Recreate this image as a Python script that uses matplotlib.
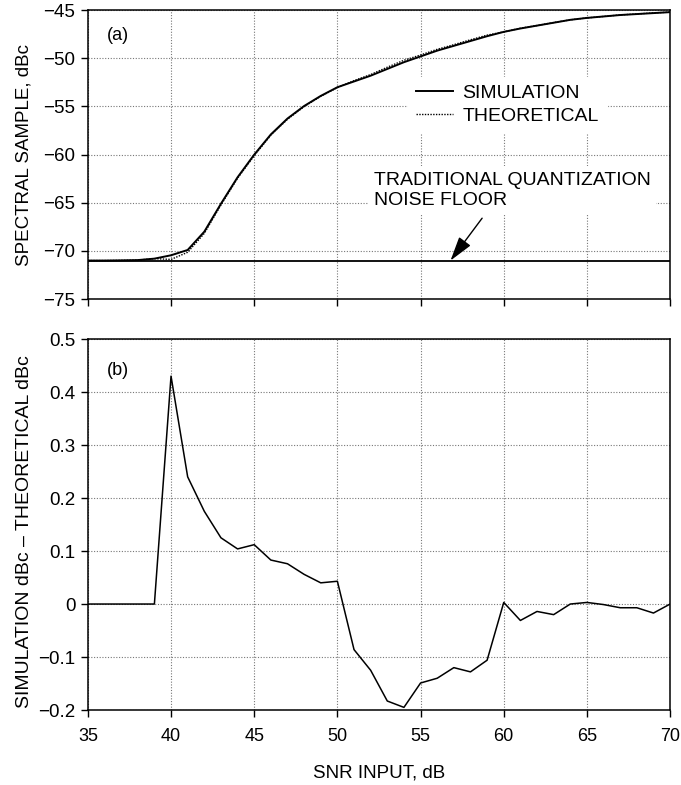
import matplotlib
matplotlib.use("Agg")
import matplotlib.pyplot as plt

plt.rcParams['font.family'] = ['Liberation Sans', 'DejaVu Sans']

snr = list(range(35, 71))
simulation = [-71.0, -71.0, -70.98, -70.95, -70.8, -70.45, -69.9, -68.0, -65.1, -62.35,
              -60.0, -57.9, -56.25, -54.95, -53.9, -53.0, -52.4, -51.8, -51.1, -50.4,
              -49.8, -49.2, -48.7, -48.2, -47.7, -47.25, -46.9, -46.6, -46.3, -46.0,
              -45.8, -45.65, -45.5, -45.4, -45.3, -45.2]
theoretical = [-71.0, -71.0, -70.98, -70.95, -70.8, -70.88, -70.14, -68.18, -65.23, -62.45,
               -60.11, -57.98, -56.33, -55.01, -53.94, -53.04, -52.31, -51.68, -50.92, -50.2,
               -49.65, -49.06, -48.58, -48.07, -47.59, -47.25, -46.87, -46.59, -46.28, -46.0,
               -45.8, -45.65, -45.49, -45.39, -45.28, -45.2]
difference = [0, 0, 0, 0, 0, 0.43, 0.24, 0.175, 0.125, 0.104, 0.112, 0.083, 0.076, 0.056,
              0.04, 0.043, -0.086, -0.125, -0.183, -0.195, -0.149, -0.14, -0.12, -0.128,
              -0.106, 0.003, -0.031, -0.014, -0.02, 0.0, 0.003, -0.001, -0.007, -0.007,
              -0.017, 0.0]
noise_floor = -71.0

x_ticks = [35, 40, 45, 50, 55, 60, 65, 70]
y_ticks_a = [-75, -70, -65, -60, -55, -50, -45]
y_ticks_b = [-0.2, -0.1, 0.0, 0.1, 0.2, 0.3, 0.4, 0.5]
y_labels_b = ['\u22120.2', '\u22120.1', '0', '0.1', '0.2', '0.3', '0.4', '0.5']

fig = plt.figure(figsize=(6.81, 7.85), dpi=100)
ax1 = fig.add_axes([0.129, 0.619, 0.855, 0.368])
ax2 = fig.add_axes([0.129, 0.0955, 0.855, 0.4726])

grid_kw = dict(color='#777777', linestyle=(0, (1, 1.5)), linewidth=0.8)

for ax in (ax1, ax2):
    ax.set_xlim(35, 70)
    ax.set_xticks(x_ticks)
    ax.grid(True, **grid_kw)
    ax.tick_params(direction='out', length=5, width=1, colors='black', pad=4)
    for s in ax.spines.values():
        s.set_linewidth(1.1)
        s.set_color('black')

# Panel (a)
ax1.plot(snr, theoretical, color='black', linestyle=(0, (1, 1)), linewidth=1.0, label='THEORETICAL', zorder=3)
ax1.plot(snr, simulation, color='black', linestyle='-', linewidth=1.4, label='SIMULATION', zorder=4)
ax1.axhline(noise_floor, color='black', linewidth=1.3, zorder=3)
ax1.set_ylim(-75, -45)
ax1.set_yticks(y_ticks_a)
ax1.set_yticklabels([f'\u2212{abs(v)}' for v in y_ticks_a], fontsize=13.5)
ax1.set_xticklabels([])
ax1.set_ylabel('SPECTRAL SAMPLE, dBc', fontsize=13.5)
ax1.yaxis.set_label_coords(-0.095, 0.5)
ax1.text(0.032, 0.913, '(a)', transform=ax1.transAxes, fontsize=13, va='center', ha='left')

handles, labels = ax1.get_legend_handles_labels()
leg = ax1.legend(handles[::-1], labels[::-1], loc='upper left', bbox_to_anchor=(0.55, 0.77),
                 fontsize=14, frameon=True, fancybox=False, edgecolor='white', facecolor='white',
                 framealpha=1, handlelength=1.9, handletextpad=0.5, labelspacing=0.25,
                 borderpad=0.4, borderaxespad=0)
leg.set_zorder(5)

ax1.annotate('', xy=(56.8, noise_floor), xytext=(58.7, -66.6),
             arrowprops=dict(arrowstyle='-|>,head_length=0.75,head_width=0.22', color='black',
                             lw=1.0, mutation_scale=20, shrinkA=0, shrinkB=0), zorder=6)
ax1.text(52.2, -61.8, 'TRADITIONAL QUANTIZATION\nNOISE FLOOR', fontsize=14, va='top', ha='left',
         linespacing=1.25, zorder=5,
         bbox=dict(facecolor='white', edgecolor='none', pad=4))

# Panel (b)
ax2.plot(snr, difference, color='black', linewidth=1.1, zorder=3)
ax2.set_ylim(-0.2, 0.5)
ax2.set_yticks(y_ticks_b)
ax2.set_yticklabels(y_labels_b, fontsize=13.5)
ax2.set_xticklabels([str(v) for v in x_ticks], fontsize=13)
ax2.tick_params(axis='x', pad=8)
ax2.set_xlabel('SNR INPUT, dB', fontsize=13.5, labelpad=14)
ax2.set_ylabel('SIMULATION dBc \u2013 THEORETICAL dBc', fontsize=14)
ax2.yaxis.set_label_coords(-0.095, 0.48)
ax2.text(0.032, 0.916, '(b)', transform=ax2.transAxes, fontsize=13, va='center', ha='left')

fig.savefig('out.png', dpi=100, facecolor='white')
